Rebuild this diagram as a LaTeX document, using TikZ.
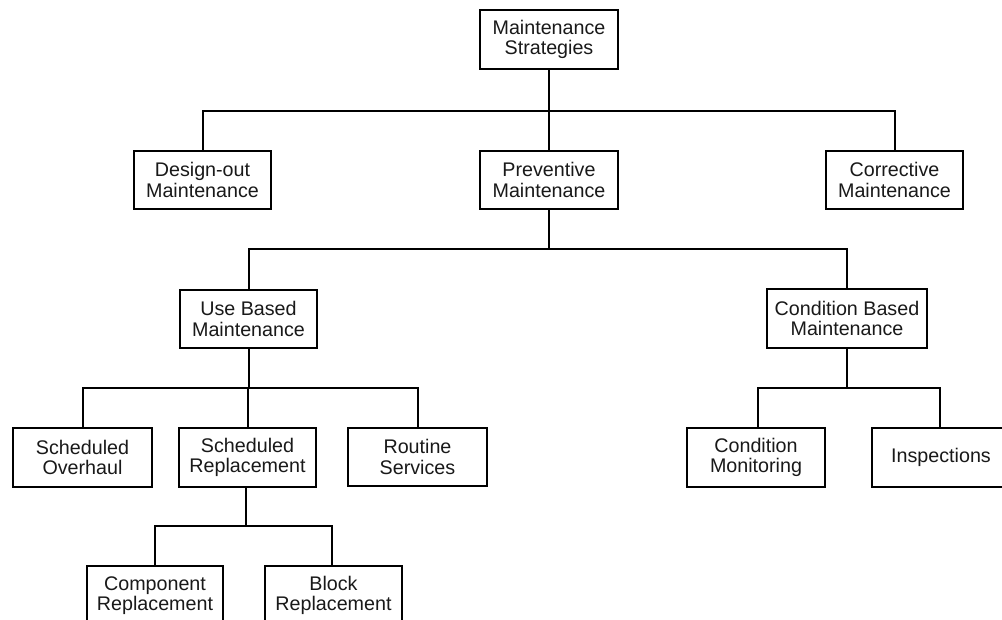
\documentclass[tikz,border=0pt]{standalone}
\usepackage{fontspec}
\setmainfont{Liberation Sans}
\begin{document}
\begin{tikzpicture}[x=1pt,y=-1pt,
  box/.style={draw=black,line width=2.2pt,fill=white,inner sep=0pt,align=center,
    font=\fontsize{19.7}{20.5}\selectfont,text=black!90},
  conn/.style={draw=black,line width=2pt}]
\useasboundingbox (0,0) rectangle (1002,619);
\clip (0,0) rectangle (1002,619);
\fill[white] (0,0) rectangle (1002,619);
% nodes
\node[box,minimum width=138pt,minimum height=59pt] (top) at (549,39.5) {Maintenance\\Strategies};
\node[box,minimum width=137pt,minimum height=58pt] (design) at (202.5,180) {Design-out\\Maintenance};
\node[box,minimum width=138pt,minimum height=58pt] (prev) at (549,180) {Preventive\\Maintenance};
\node[box,minimum width=137pt,minimum height=58pt] (corr) at (894.5,180) {Corrective\\Maintenance};
\node[box,minimum width=137pt,minimum height=58pt] (use) at (248.5,319) {Use Based\\Maintenance};
\node[box,minimum width=160pt,minimum height=59pt] (cbm) at (847,318.5) {Condition Based\\Maintenance};
\node[box,minimum width=139pt,minimum height=59pt] (so) at (82.5,457.5) {Scheduled\\Overhaul};
\node[box,minimum width=137pt,minimum height=59pt] (sr) at (247.5,457.5) {Scheduled\\Replacement};
\node[box,minimum width=139pt,minimum height=58pt] (rs) at (417.5,457) {Routine\\Services};
\node[box,minimum width=138pt,minimum height=59pt] (cm) at (756,457.5) {Condition\\Monitoring};
\node[box,minimum width=138pt,minimum height=59pt] (insp) at (941,457.5) {Inspections};
\node[box,minimum width=136pt,minimum height=59pt] (comp) at (155,595.5) {Component\\Replacement};
\node[box,minimum width=137pt,minimum height=59pt] (block) at (333.5,595.5) {Block\\Replacement};
% connectors
\draw[conn] (top.south) -- (prev.north);
\draw[conn] (design.north) -- (design.north |- 0,111) -- (corr.north |- 0,111) -- (corr.north);
\draw[conn] (prev.south) -- (prev.south |- 0,248.5);
\draw[conn] (use.north) -- (use.north |- 0,248.5) -- (cbm.north |- 0,248.5) -- (cbm.north);
\draw[conn] (use.south) -- (use.south |- 0,388);
\draw[conn] (so.north) -- (so.north |- 0,388) -- (rs.north |- 0,388) -- (rs.north);
\draw[conn] (sr.north) -- (sr.north |- 0,388);
\draw[conn] (cbm.south) -- (cbm.south |- 0,388);
\draw[conn] ([xshift=2pt]cm.north) -- ([xshift=2pt]cm.north |- 0,388) -- ([xshift=-1pt]insp.north |- 0,388) -- ([xshift=-1pt]insp.north);
\draw[conn] ([xshift=-1.5pt]sr.south) -- ([xshift=-1.5pt]sr.south |- 0,526);
\draw[conn] (comp.north) -- (comp.north |- 0,526) -- ([xshift=-1.5pt]block.north |- 0,526) -- ([xshift=-1.5pt]block.north);
\end{tikzpicture}
\end{document}
